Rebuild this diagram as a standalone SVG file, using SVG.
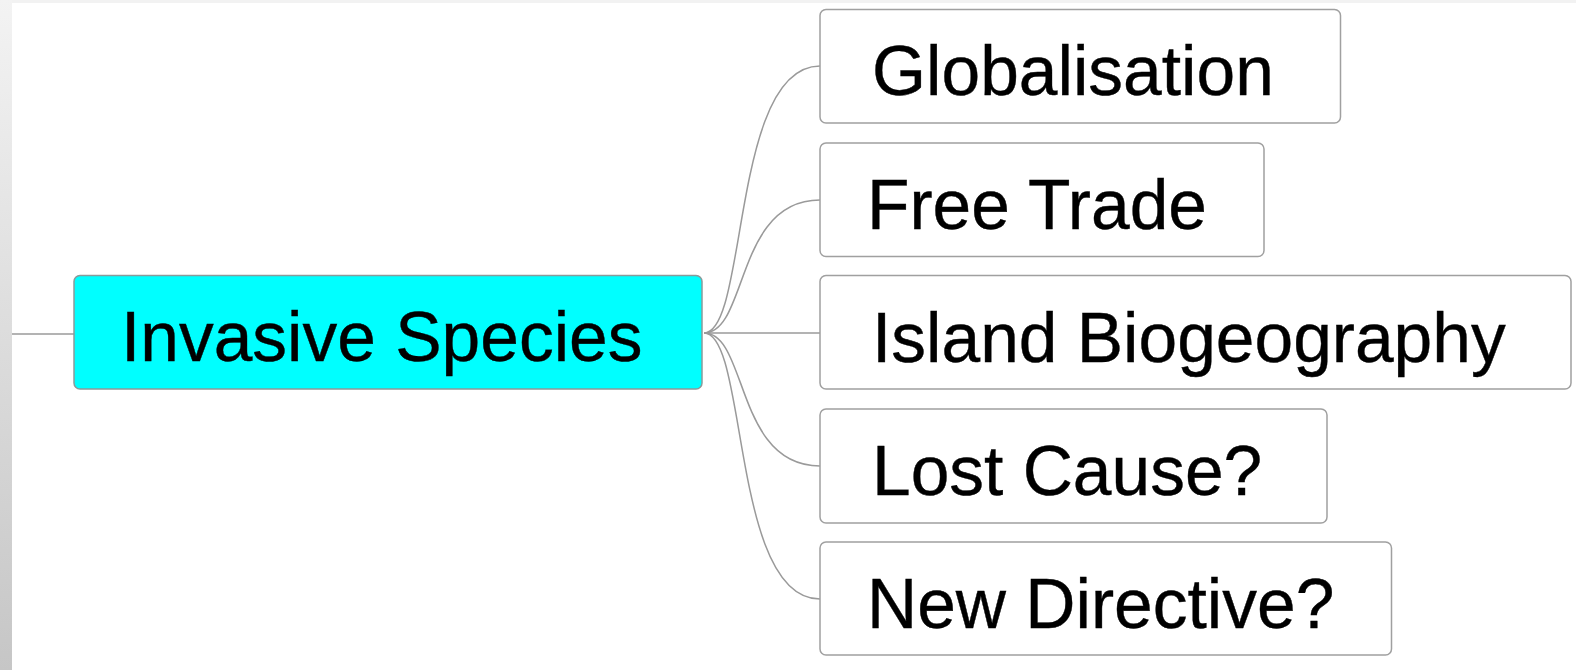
<svg xmlns="http://www.w3.org/2000/svg" width="1576" height="670" viewBox="0 0 1576 670">
<defs>
<linearGradient id="lg" x1="0" y1="0" x2="0" y2="1">
<stop offset="0" stop-color="#f3f3f3"/>
<stop offset="1" stop-color="#c6c6c6"/>
</linearGradient>
<style>
.box{fill:#ffffff;stroke:#a0a0a0;stroke-width:1.5}
.root{fill:#00ffff;stroke:#8a9a9a;stroke-width:1.5}
.t{font-family:"Liberation Sans",Arial,sans-serif;font-size:69.5px;fill:#000;stroke:#000;stroke-width:0.4}
.c{fill:none;stroke:#9a9a9a;stroke-width:1.5}
</style>
</defs>
<rect x="0" y="0" width="1576" height="670" fill="#ffffff"/>
<rect x="0" y="0" width="1576" height="3" fill="#f2f2f2"/>
<rect x="0" y="0" width="12" height="670" fill="url(#lg)"/>
<g id="connectors">
<line class="c" x1="12" y1="334" x2="74" y2="334"/>
<path class="c" d="M704,333 C748,333 731,66 820,66"/>
<path class="c" d="M704,333 C748,333 735,200 820,200"/>
<path class="c" d="M704,333 L820,333"/>
<path class="c" d="M704,333 C748,333 735,466 820,466"/>
<path class="c" d="M704,333 C748,333 731,599 820,599"/>
</g>
<g id="root">
<rect class="root" x="74" y="275.5" width="628" height="113.5" rx="6"/>
<text class="t" x="121" y="360.5">Invasive Species</text>
</g>
<g id="n1">
<rect class="box" x="820" y="9.5" width="520.5" height="113.5" rx="6"/>
<text class="t" x="872" y="95">Globalisation</text>
</g>
<g id="n2">
<rect class="box" x="820" y="143" width="444" height="113.5" rx="6"/>
<text class="t" x="867" y="228.5">Free Trade</text>
</g>
<g id="n3">
<rect class="box" x="820" y="275.5" width="751" height="113.5" rx="6"/>
<text class="t" x="872" y="361.5">Island Biogeography</text>
</g>
<g id="n4">
<rect class="box" x="820" y="409" width="507" height="114" rx="6"/>
<text class="t" x="872" y="495">Lost Cause?</text>
</g>
<g id="n5">
<rect class="box" x="820" y="542" width="571.5" height="113" rx="6"/>
<text class="t" x="867" y="628">New Directive?</text>
</g>
</svg>
